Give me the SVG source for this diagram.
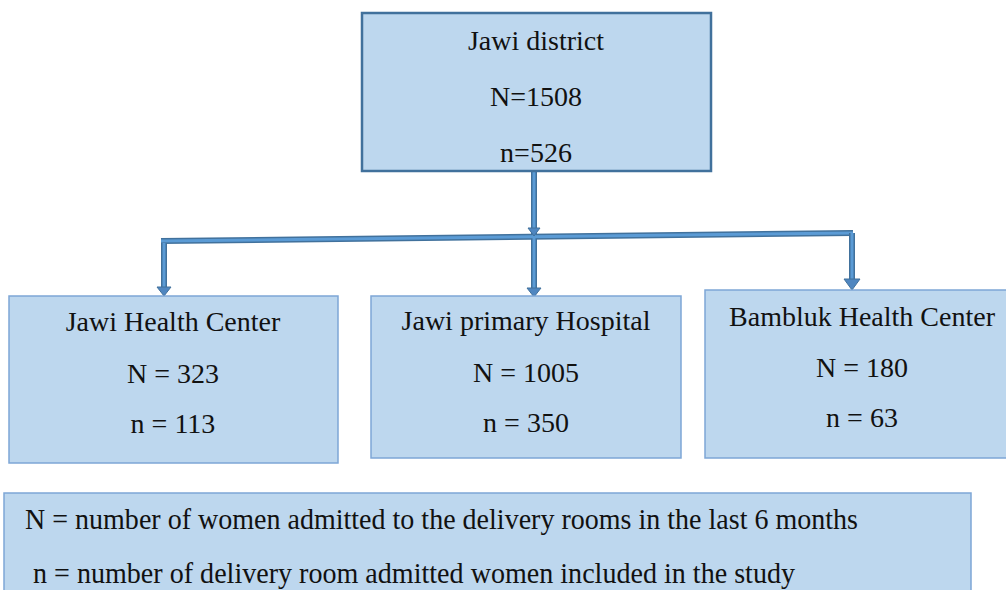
<svg xmlns="http://www.w3.org/2000/svg" width="1006" height="590" viewBox="0 0 1006 590">
<style>
.box{fill:#bdd7ee;stroke:#7ea6d6;stroke-width:1.5}
.top{fill:#bdd7ee;stroke:#41719c;stroke-width:2.5}
.t{font-family:"Liberation Serif","Times New Roman",serif;font-size:28px;fill:#111;text-anchor:middle}
.l{font-family:"Liberation Serif","Times New Roman",serif;font-size:29px;fill:#111}
.so{stroke:#41719c;stroke-width:6;fill:none}
.si{stroke:#5b9bd5;stroke-width:3;fill:none}
.ah{fill:#4f86c0;stroke:#41719c;stroke-width:1}
</style>
<rect width="1006" height="590" fill="#fff"/>
<g id="connectors">
  <line class="so" x1="534" y1="172" x2="534" y2="288"/>
  <line class="so" x1="161" y1="241" x2="853" y2="233"/>
  <line class="si" x1="161" y1="241" x2="853" y2="233"/>
  <line class="si" x1="534" y1="172" x2="534" y2="288"/>
  <polygon class="ah" points="528,228 540,228 534,236"/>
  <line class="so" x1="164" y1="243" x2="164" y2="287"/>
  <line class="si" x1="164" y1="243" x2="164" y2="287"/>
  <polygon class="ah" points="157,287 171,287 164,296"/>
  <polygon class="ah" points="527,288 541,288 534,297"/>
  <line class="so" x1="852" y1="233" x2="852" y2="280"/>
  <line class="si" x1="852" y1="233" x2="852" y2="280"/>
  <polygon class="ah" points="844,279 860,279 852,290"/>
</g>
<g id="jawi-district">
  <rect class="top" x="362" y="13" width="349" height="158"/>
  <text class="t" x="536" y="50">Jawi district</text>
  <text class="t" x="536" y="106">N=1508</text>
  <text class="t" x="536" y="162">n=526</text>
</g>
<g id="jawi-health-center">
  <rect class="box" x="9" y="296" width="329" height="167"/>
  <text class="t" x="173" y="331">Jawi Health Center</text>
  <text class="t" x="173" y="383">N = 323</text>
  <text class="t" x="173" y="433">n = 113</text>
</g>
<g id="jawi-primary-hospital">
  <rect class="box" x="371" y="296" width="310" height="162"/>
  <text class="t" x="526" y="330">Jawi primary Hospital</text>
  <text class="t" x="526" y="382">N = 1005</text>
  <text class="t" x="526" y="432">n = 350</text>
</g>
<g id="bambluk-health-center">
  <rect class="box" x="705" y="290" width="305" height="168"/>
  <text class="t" x="862" y="326">Bambluk Health Center</text>
  <text class="t" x="862" y="377">N = 180</text>
  <text class="t" x="862" y="427">n = 63</text>
</g>
<g id="legend">
  <rect class="box" x="4" y="493" width="967" height="100"/>
  <text class="l" x="25" y="529" textLength="833" lengthAdjust="spacingAndGlyphs">N = number of women admitted to the delivery rooms in the last 6 months</text>
  <text class="l" x="33" y="583" textLength="762" lengthAdjust="spacingAndGlyphs">n = number of delivery room admitted women included in the study</text>
</g>
</svg>
